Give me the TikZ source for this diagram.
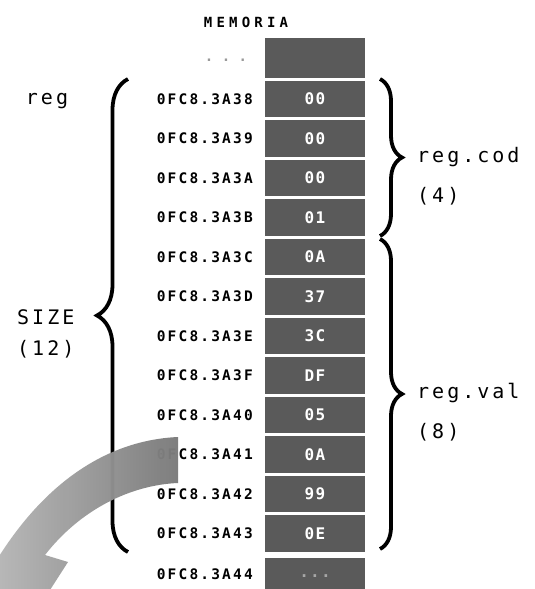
\documentclass[tikz,border=0pt]{standalone}
\usepackage{fontspec}
\usetikzlibrary{decorations.pathreplacing}
\newfontfamily\addrfont[LetterSpace=15]{DejaVu Sans Mono}
\newfontfamily\dotfont[LetterSpace=60]{DejaVu Sans Mono}
\newfontfamily\valfont[LetterSpace=8]{DejaVu Sans Mono}
\newfontfamily\labfont[LetterSpace=15]{DejaVu Sans Mono}
\newfontfamily\titfont[LetterSpace=30]{DejaVu Sans Mono}
\definecolor{cellgray}{HTML}{5A5A5A}
\tikzset{
  cell/.style={fill=cellgray, minimum width=100pt, minimum height=36.5pt, inner sep=0pt,
    text=white, font=\valfont\fontsize{16}{18}\selectfont\bfseries},
  addr/.style={anchor=east, inner sep=0pt, font=\addrfont\fontsize{14.5}{16}\selectfont\bfseries},
  lab/.style={inner sep=0pt, font=\labfont\fontsize{20}{22}\selectfont},
  bigbrace/.style={line width=3.8pt, decorate, decoration={brace, amplitude=#1}},
}
\begin{document}
\begin{tikzpicture}[x=1pt,y=-1pt]
\useasboundingbox (0,0) rectangle (535,589);
\fill[white] (0,0) rectangle (535,589);
% title
\node[inner sep=0pt, font=\titfont\fontsize{14}{16}\selectfont\bfseries] (title) at (246,22) {MEMORIA};
% top cell
\node[cell, minimum height=39.5pt] (ctop) at (315,57.75) {};
\node[inner sep=0pt, text=gray!80, font=\dotfont\fontsize{14}{16}\selectfont\bfseries] (atop) at (226,60) {...};
% cells
\foreach[count=\i from 0] \a/\v in {3A38/00,3A39/00,3A3A/00,3A3B/01,3A3C/0A,3A3D/37,3A3E/3C,3A3F/DF,3A40/05,3A41/0A,3A42/99,3A43/0E}{
  \pgfmathsetmacro\yc{98.75+39.5*\i}
  \node[cell] (c\i) at (315,\yc) {\v};
  \node[addr] (a\i) at (253,\yc) {0FC8.\a};
}
\node[cell, text=gray!70] (c12) at (315,576) {...};
\node[addr] (a12) at (253,574) {0FC8.3A44};
% braces
\draw[bigbrace=31] (128,552) -- (128,79);
\draw[bigbrace=22] (380,79) -- (380,236);
\draw[bigbrace=22] (380,239) -- (380,549);
% labels
\node[lab] (lreg) at (47,101) {reg};
\node[lab, anchor=west] (lsize) at (17,317) {SIZE};
\node[lab, anchor=west] (l12) at (17,349) {(12)};
\node[lab, anchor=west] (lcod) at (417,157) {reg.cod};
\node[lab, anchor=west] (l4) at (417,196) {(4)};
\node[lab, anchor=west] (lval) at (417,393) {reg.val};
\node[lab, anchor=west] (l8) at (417,432) {(8)};
% curved arrow
\begin{scope}
\clip (0,0) rectangle (535,589);
\shade[left color=gray!45, right color=black!52, opacity=0.97]
  (178,437) .. controls (110,440) and (40,480) .. (-15,580)
  -- (-50,575) -- (5,660) -- (68,562) -- (45,555)
  .. controls (80,510) and (130,485) .. (178,483) -- cycle;
\end{scope}
\end{tikzpicture}
\end{document}
